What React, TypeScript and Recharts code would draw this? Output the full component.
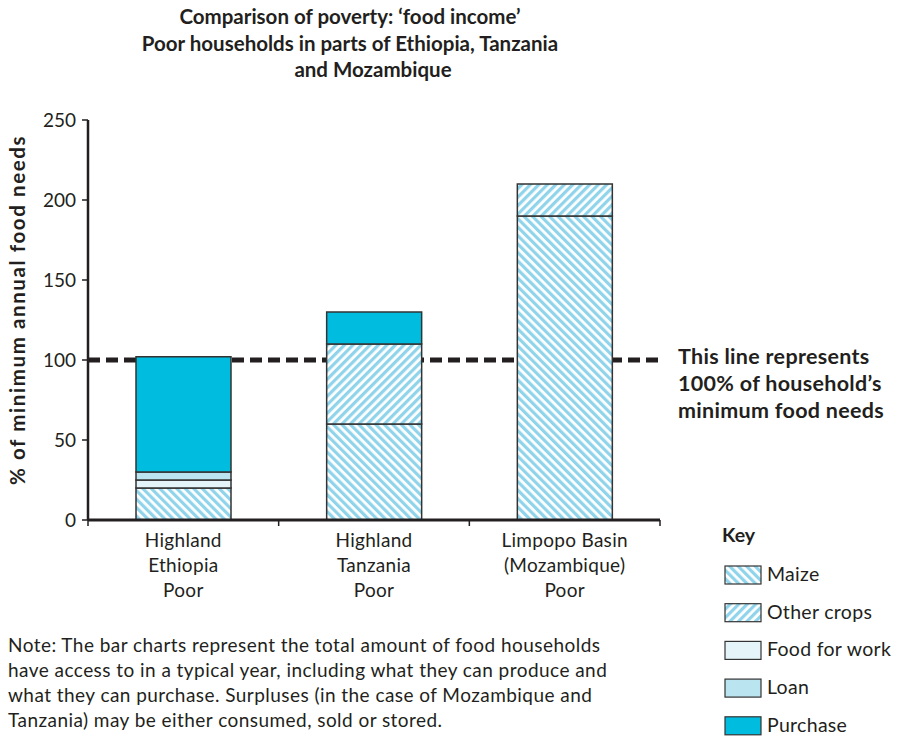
import { ComposedChart, Bar, XAxis, YAxis, ReferenceLine } from 'recharts'

const categories = ['Highland\nEthiopia\nPoor', 'Highland\nTanzania\nPoor', 'Limpopo Basin\n(Mozambique)\nPoor']
const maize = [20, 60, 190]
const otherCrops = [0, 50, 20]
const foodForWork = [5, 0, 0]
const loan = [5, 0, 0]
const purchase = [72, 20, 0]
const yTicks = [0, 50, 100, 150, 200, 250]
const minimumNeed = 100

const titleLines = ['Comparison of poverty: \u2018food income\u2019', 'Poor households in parts of Ethiopia, Tanzania', 'and Mozambique']
const noteLines = [
  'Note: The bar charts represent the total amount of food households',
  'have access to in a typical year, including what they can produce and',
  'what they can purchase. Surpluses (in the case of Mozambique and',
  'Tanzania) may be either consumed, sold or stored.',
]
const lineNote = ['This line represents', '100% of household\u2019s', 'minimum food needs']

const FONT = 'Lato, "Open Sans", sans-serif'
const INK = '#231f20'
const STRIPE = '#8fd4ea'

const data = categories.map((name, i) => ({
  name,
  maize: maize[i],
  otherCrops: otherCrops[i],
  foodForWork: foodForWork[i],
  loan: loan[i],
  purchase: purchase[i],
}))

const keyItems = [
  { label: 'Maize', fill: 'url(#maize)' },
  { label: 'Other crops', fill: 'url(#other)' },
  { label: 'Food for work', fill: '#e4f4f8' },
  { label: 'Loan', fill: '#b9e4f0' },
  { label: 'Purchase', fill: '#00bde0' },
]

const W = 899
const H = 737
const PLOT_LEFT = 88
const PLOT_RIGHT = 660
const PLOT_TOP = 120
const X_AXIS_H = 90
const BOTTOM = 127
const BAND = (PLOT_RIGHT - PLOT_LEFT) / categories.length

function Stripes() {
  return (
    <defs>
      <pattern id="maize" width="6" height="6" patternUnits="userSpaceOnUse" patternTransform="rotate(-45)">
        <rect width="6" height="6" fill="#fff" />
        <rect width="3.2" height="6" fill={STRIPE} />
      </pattern>
      <pattern id="other" width="6" height="6" patternUnits="userSpaceOnUse" patternTransform="rotate(45)">
        <rect width="6" height="6" fill="#fff" />
        <rect width="3.2" height="6" fill={STRIPE} />
      </pattern>
    </defs>
  )
}

function CatTick(props: any) {
  const { x, y, payload, index } = props
  const lines = String(payload.value).split('\n')
  return (
    <g>
      <line x1={x - BAND / 2} x2={x - BAND / 2} y1={y - 6} y2={y} stroke={INK} strokeWidth={1.5} />
      {index === categories.length - 1 && (
        <line x1={x + BAND / 2} x2={x + BAND / 2} y1={y - 6} y2={y} stroke={INK} strokeWidth={1.5} />
      )}
      <text x={x} y={y} textAnchor="middle" fill={INK} fontSize={19} letterSpacing={0.3} fontFamily={FONT}>
        {lines.map((l, i) => (
          <tspan key={i} x={x} dy={i === 0 ? 21 : 25}>{l}</tspan>
        ))}
      </text>
    </g>
  )
}

// both layers share the same axis sizes so the plot area lines up exactly;
// the ghost layer keeps the geometry but draws nothing
function Axes(ghost: boolean) {
  return [
    <XAxis key="xt" xAxisId="top" orientation="top" dataKey="name" height={0} tick={false} tickLine={false} axisLine={ghost ? false : { stroke: '#999', strokeWidth: 1 }} />,
    <YAxis key="yr" yAxisId="right" orientation="right" width={0} domain={[0, 250]} tick={false} tickLine={false} axisLine={ghost ? false : { stroke: '#999', strokeWidth: 1 }} />,
    <XAxis
      key="x"
      dataKey="name"
      height={X_AXIS_H}
      tickSize={6}
      tickMargin={0}
      tickLine={false}
      interval={0}
      tick={ghost ? false : <CatTick />}
      axisLine={ghost ? false : { stroke: INK, strokeWidth: 3 }}
    />,
    <YAxis
      key="y"
      width={PLOT_LEFT}
      domain={[0, 250]}
      ticks={yTicks}
      tickSize={6}
      tickMargin={6}
      tick={ghost ? false : { fill: INK, fontSize: 19, fontFamily: FONT }}
      tickLine={ghost ? false : { stroke: INK, strokeWidth: 1.5 }}
      axisLine={ghost ? false : { stroke: INK, strokeWidth: 2.5 }}
    />,
  ]
}

const margin = { top: PLOT_TOP, right: W - PLOT_RIGHT, bottom: BOTTOM, left: 0 }

export default function App() {
  return (
    <div style={{ position: 'absolute', left: 0, top: 0, width: W, height: H, fontFamily: FONT, color: INK, background: '#fff' }}>
      {/* dashed 100% line sits underneath the bars */}
      <div style={{ position: 'absolute', left: 0, top: 0 }}>
        <ComposedChart width={W} height={H} data={data} margin={margin} barSize={95}>
          {Axes(true)}
          <ReferenceLine y={minimumNeed} stroke={INK} strokeWidth={5} strokeDasharray="12 6" />
          <Bar dataKey="maize" stackId="a" fill="none" stroke="none" isAnimationActive={false} />
        </ComposedChart>
      </div>

      <div style={{ position: 'absolute', left: 0, top: 0 }}>
        <ComposedChart width={W} height={H} data={data} margin={margin} barSize={95}>
          <Stripes />
          {Axes(false)}
          <Bar dataKey="maize" stackId="a" fill="url(#maize)" stroke="#333" strokeWidth={1.5} isAnimationActive={false} />
          <Bar dataKey="otherCrops" stackId="a" fill="url(#other)" stroke="#333" strokeWidth={1.5} isAnimationActive={false} />
          <Bar dataKey="foodForWork" stackId="a" fill="#e4f4f8" stroke="#333" strokeWidth={1.5} isAnimationActive={false} />
          <Bar dataKey="loan" stackId="a" fill="#b9e4f0" stroke="#333" strokeWidth={1.5} isAnimationActive={false} />
          <Bar dataKey="purchase" stackId="a" fill="#00bde0" stroke="#333" strokeWidth={1.5} isAnimationActive={false} />
        </ComposedChart>
      </div>

      <div style={{ position: 'absolute', left: 35, width: 630, top: 3, textAlign: 'center', fontWeight: 700, fontSize: 20.5, lineHeight: '26.5px' }}>
        <div>{titleLines[0]}</div>
        <div>{titleLines[1]}</div>
        <div style={{ paddingLeft: 46 }}>{titleLines[2]}</div>
      </div>

      <div style={{ position: 'absolute', left: 17, top: 310, width: 0, height: 0 }}>
        <div style={{ position: 'absolute', transform: 'translate(-50%, -50%) rotate(-90deg)', whiteSpace: 'nowrap', fontWeight: 700, fontSize: 20.5, letterSpacing: 1.6 }}>
          % of minimum annual food needs
        </div>
      </div>

      <div style={{ position: 'absolute', left: 678, top: 343, fontWeight: 700, fontSize: 21.5, letterSpacing: 0.3, lineHeight: '27px' }}>
        {lineNote.map((l) => <div key={l}>{l}</div>)}
      </div>

      <div style={{ position: 'absolute', left: 8, top: 632, fontSize: 19, letterSpacing: 0.45, lineHeight: '25px' }}>
        {noteLines.map((l) => <div key={l}>{l}</div>)}
      </div>

      <div style={{ position: 'absolute', left: 722, top: 523, fontWeight: 700, fontSize: 19.5 }}>Key</div>
      <svg style={{ position: 'absolute', left: 0, top: 0, pointerEvents: 'none' }} width={W} height={H}>
        <Stripes />
        {keyItems.map((k, i) => (
          <rect key={k.label} x={725} y={566 + i * 37.7} width={36} height={18} fill={k.fill} stroke="#333" strokeWidth={1.2} />
        ))}
      </svg>
      {keyItems.map((k, i) => (
        <div key={k.label} style={{ position: 'absolute', left: 767, top: 561 + i * 37.7, fontSize: 19.5, letterSpacing: 0.3, lineHeight: '26px' }}>{k.label}</div>
      ))}
    </div>
  )
}
